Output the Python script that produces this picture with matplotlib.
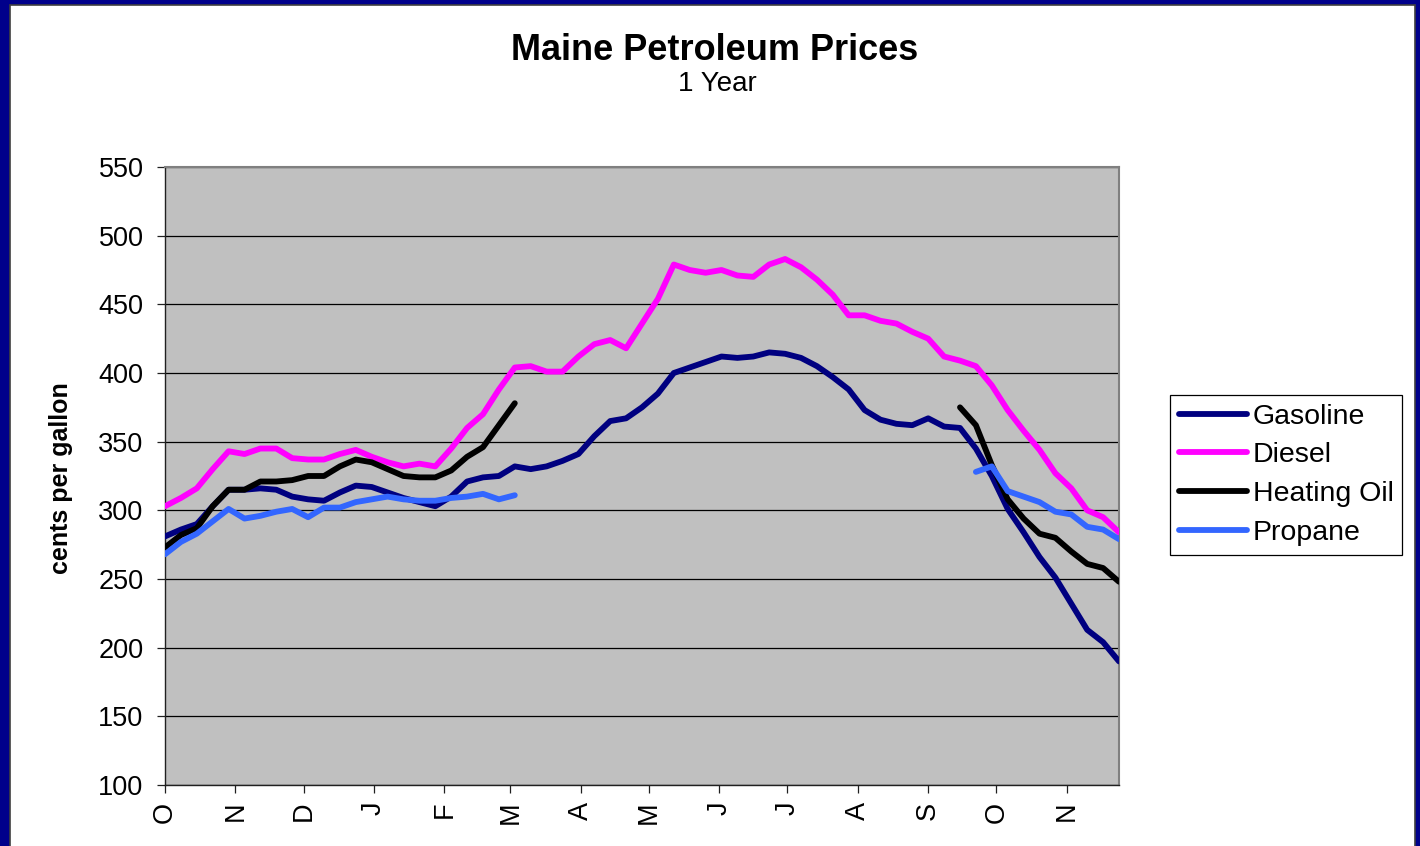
import numpy as np
import pandas as pd
import matplotlib
matplotlib.use('Agg')
import matplotlib.pyplot as plt
from matplotlib.patches import Rectangle

plt.rcParams['font.family'] = ['Liberation Sans', 'DejaVu Sans']

# weekly prices, cents per gallon (None = no report that week)
weeks = pd.date_range('2007-10-01', periods=61, freq='7D')

gasoline = [281, 286, 290, 303, 315, 315, 316, 315, 310, 308, 307, 313, 318, 317, 313,
            309, 306, 303, 310, 321, 324, 325, 332, 330, 332, 336, 341, 354, 365, 367,
            375, 385, 400, 404, 408, 412, 411, 412, 415, 414, 411, 405, 397, 388, 373,
            366, 363, 362, 367, 361, 360, 345, 325, 301, 284, 266, 251, 232, 213, 204, 190]

diesel = [303, 309, 316, 330, 343, 341, 345, 345, 338, 337, 337, 341, 344, 339, 335,
          332, 334, 332, 345, 360, 370, 388, 404, 405, 401, 401, 412, 421, 424, 418,
          436, 454, 479, 475, 473, 475, 471, 470, 479, 483, 477, 468, 457, 442, 442,
          438, 436, 430, 425, 412, 409, 405, 391, 373, 358, 344, 327, 316, 300, 295, 284]

heating_oil = ([273, 282, 287, 303, 315, 315, 321, 321, 322, 325, 325, 332, 337, 335, 330,
                325, 324, 324, 329, 339, 346, 362, 378]
               + [None] * 27
               + [375, 362, 333, 308, 294, 283, 280, 270, 261, 258, 248])

propane = ([268, 277, 283, 292, 301, 294, 296, 299, 301, 295, 302, 302, 306, 308, 310,
            308, 307, 307, 309, 310, 312, 308, 311]
           + [None] * 28
           + [328, 332, 314, 310, 306, 299, 297, 288, 286, 279])

series = ['Gasoline', 'Diesel', 'Heating Oil', 'Propane']
values = [gasoline, diesel, heating_oil, propane]
colors = ['#000080', '#FF00FF', '#000000', '#3366FF']

month_starts = pd.date_range('2007-10-01', '2008-11-01', freq='MS')
month_labels = [d.strftime('%b')[0] for d in month_starts]

fig = plt.figure(figsize=(14.2, 8.46), dpi=100)
fig.patch.set_facecolor('#00008B')

# white chart panel inside the navy frame
W, H = 1420, 846
panel = Rectangle((10 / W, -0.02), 1405 / W, (H - 5) / H + 0.02,
                  transform=fig.transFigure, facecolor='white',
                  edgecolor='#404040', linewidth=1.2, zorder=-10)
fig.patches.append(panel)

ax = fig.add_axes([165 / W, (H - 785) / H, 954 / W, 618 / H])
ax.set_facecolor('#C0C0C0')

for name, vals, c in zip(series, values, colors):
    y = np.array(vals, dtype=float)
    ax.plot(weeks, y, color=c, linewidth=4.2, label=name,
            solid_capstyle='round', solid_joinstyle='round', zorder=3)

ax.set_ylim(100, 550)
ax.set_yticks(np.arange(100, 551, 50))
ax.set_xlim(weeks[0], weeks[-1])
ax.set_xticks(month_starts)
ax.set_xticklabels(month_labels, rotation=90)
ax.yaxis.grid(True, color='black', linewidth=0.9)
ax.set_axisbelow(True)

ax.tick_params(axis='both', direction='out', length=6, width=0.9,
               labelsize=19.5, color='#202020')
ax.tick_params(axis='x', pad=6)
ax.tick_params(axis='y', pad=9.5)

for side in ['top', 'right']:
    ax.spines[side].set_color('#808080')
    ax.spines[side].set_linewidth(1.5)
for side in ['left', 'bottom']:
    ax.spines[side].set_color('#202020')
    ax.spines[side].set_linewidth(1.0)

fig.text(715 / W, 1 - 50 / H, 'Maine Petroleum Prices', ha='center', va='center',
         fontsize=26, fontweight='bold')
fig.text(717 / W, 1 - 84 / H, '1 Year', ha='center', va='center', fontsize=20)
fig.text(61 / W, 1 - 478 / H, 'cents per gallon', ha='center', va='center',
         rotation=90, fontsize=18, fontweight='bold')

leg = ax.legend(loc='upper left', bbox_to_anchor=(1170 / W, 1 - 395 / H),
                bbox_transform=fig.transFigure, borderaxespad=0,
                fontsize=20.5, handlelength=2.4, handletextpad=0.2,
                labelspacing=0.45, borderpad=0.3, fancybox=False,
                framealpha=1, edgecolor='black')
leg.get_frame().set_linewidth(0.9)

fig.savefig('out.png', dpi=100, facecolor=fig.get_facecolor())
